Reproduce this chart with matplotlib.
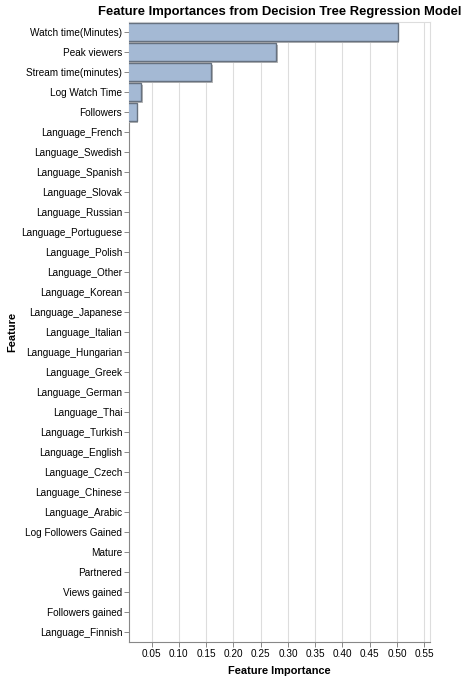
import matplotlib
matplotlib.use("Agg")
import matplotlib.pyplot as plt
import matplotlib.patheffects as pe

features = [
    "Watch time(Minutes)", "Peak viewers", "Stream time(minutes)", "Log Watch Time",
    "Followers", "Language_French", "Language_Swedish", "Language_Spanish",
    "Language_Slovak", "Language_Russian", "Language_Portuguese", "Language_Polish",
    "Language_Other", "Language_Korean", "Language_Japanese", "Language_Italian",
    "Language_Hungarian", "Language_Greek", "Language_German", "Language_Thai",
    "Language_Turkish", "Language_English", "Language_Czech", "Language_Chinese",
    "Language_Arabic", "Log Followers Gained", "Mature", "Partnered",
    "Views gained", "Followers gained", "Language_Finnish",
]
importances = [0.501, 0.2785, 0.1594, 0.031, 0.0226] + [0.0] * 26
x_ticks = [0.05, 0.10, 0.15, 0.20, 0.25, 0.30, 0.35, 0.40, 0.45, 0.50, 0.55]

plt.rcParams["font.family"] = ["Liberation Sans", "DejaVu Sans"]

fig = plt.figure(figsize=(4.67, 6.79), dpi=100)
ax = fig.add_axes([129.3 / 467, (679 - 641.7) / 679, (429.7 - 129.3) / 467, (641.7 - 22.3) / 679])

ypos = list(range(len(features)))
bars = ax.barh(ypos, importances, height=0.88, left=0, color="#a4b9d4",
               edgecolor="#66717f", linewidth=1.0, zorder=3)
for b in bars:
    b.set_path_effects([pe.SimplePatchShadow(offset=(1.1, -1.1), shadow_rgbFace="#b9b9b9", alpha=1.0),
                        pe.Normal()])

ax.set_ylim(len(features) - 0.5, -0.5)
ax.set_yticks(ypos)
ax.set_yticklabels(features, fontsize=7.2, color="#000000")
ax.set_xlim(0.009, 0.56)
ax.set_xticks(x_ticks)
ax.set_xticklabels([f"{t:.2f}" for t in x_ticks], fontsize=7.2)

ax.grid(axis="x", color="#dddddd", linewidth=0.8, zorder=0)
ax.set_axisbelow(True)

for s in ["top", "right"]:
    ax.spines[s].set_color("#dddddd")
    ax.spines[s].set_linewidth(0.8)
for s in ["left", "bottom"]:
    ax.spines[s].set_color("#888888")
    ax.spines[s].set_linewidth(0.8)

ax.tick_params(axis="both", length=3.6, width=0.7, color="#888888", pad=1.5)

ax.set_xlabel("Feature Importance", fontsize=7.9, fontweight="bold", labelpad=5)
ax.set_ylabel("Feature", fontsize=7.9, fontweight="bold", labelpad=3)
ax.set_title("Feature Importances from Decision Tree Regression Model",
             fontsize=9.4, fontweight="bold", pad=5.5)

fig.savefig("out.png", dpi=100)
